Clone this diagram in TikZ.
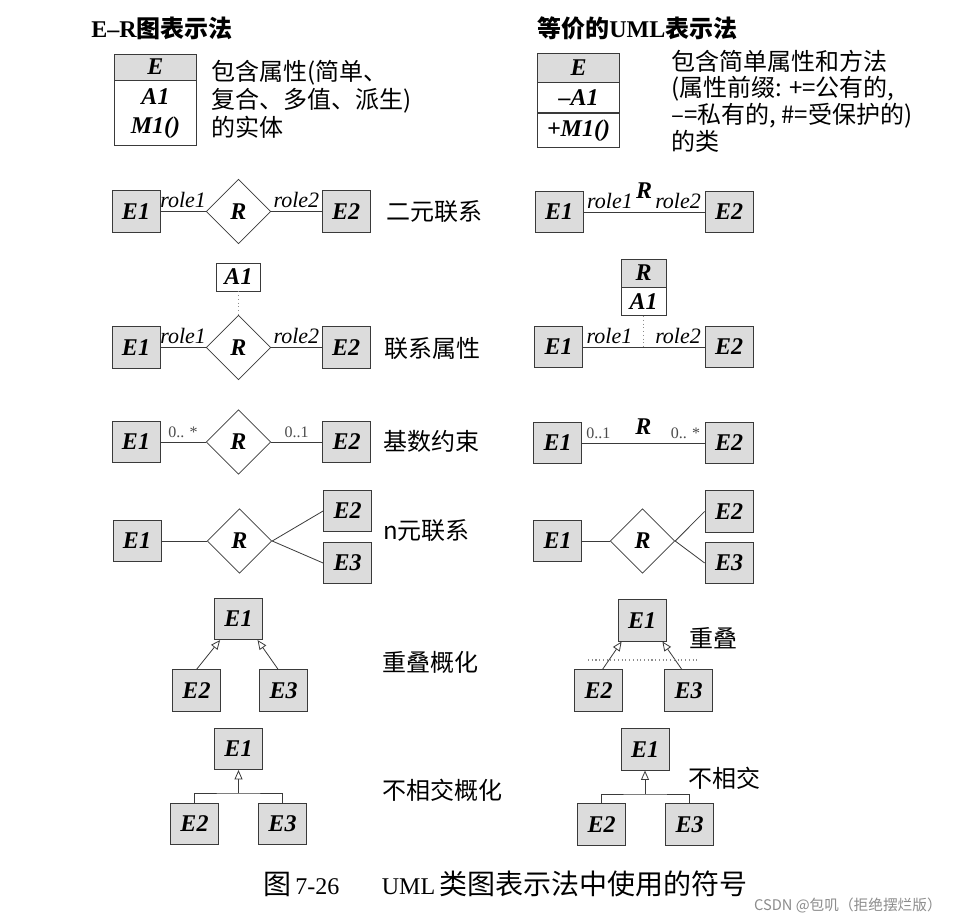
\documentclass[tikz,border=0pt]{standalone}
\usepackage{fontspec}
\setmainfont{Liberation Serif}
\newfontfamily\cjk{Noto Sans CJK SC}
\usetikzlibrary{arrows.meta, positioning, shapes.geometric}
\definecolor{BoxGray}{HTML}{DCDCDC}
\definecolor{EdgeGray}{HTML}{3A3A3A}
\definecolor{MarkGray}{HTML}{8C8C8C}
\newcommand{\entfont}{\fontsize{18}{18}\selectfont\bfseries\itshape}
\newcommand{\rolefont}{\fontsize{16.5}{16.5}\selectfont\itshape}
\newcommand{\lblfont}{\fontsize{18}{21}\selectfont\cjk}
\tikzset{
  entbox/.style={draw=EdgeGray, line width=0.6pt, fill=BoxGray, minimum width=36pt, minimum height=31pt, inner sep=0pt, font=\entfont},
  relbox/.style={diamond, draw=EdgeGray, line width=0.6pt, fill=white, minimum size=48.5pt, inner sep=0pt, font=\entfont},
  cellbox/.style={draw=EdgeGray, line width=0.6pt, fill=white, minimum width=62pt, inner sep=0pt, font=\entfont},
  conn/.style={draw=EdgeGray, line width=0.6pt},
  dotconn/.style={draw=MarkGray, dotted, line width=0.8pt},
  genarrow/.style={-{Triangle[open, length=7pt, width=6pt]}, draw=EdgeGray, line width=0.6pt},
  rolelbl/.style={font=\rolefont, inner sep=2.5pt},
  multlbl/.style={font=\fontsize{12}{12}\selectfont, text=black!70, inner sep=3pt},
  sidelbl/.style={anchor=west, font=\lblfont, inner sep=0pt},
  titlelbl/.style={anchor=west, inner sep=0pt, font=\fontsize{18}{18}\selectfont\bfseries}
}

\begin{document}
\begin{tikzpicture}[x=0.75pt, y=-0.75pt]
\fill[white] (0,0) rectangle (953,924);
\useasboundingbox (0,0) rectangle (953,924);

% column titles
\node[titlelbl] (erTitle) at (91,28) {E–R{\cjk 图表示法}};
\node[titlelbl] (umlTitle) at (537,28) {{\cjk 等价的}UML{\cjk 表示法}};

% entity and class
\node[cellbox, fill=BoxGray, minimum height=19.5pt] (erE) at (155.5,67) {E};
\node[cellbox, below=0pt of erE, minimum height=48.75pt, align=center, font=\fontsize{18}{22}\selectfont\bfseries\itshape] (erBody) {A1\\M1()};
\node[anchor=west, align=left, inner sep=0pt, font=\fontsize{18}{21}\selectfont\cjk] (erText) at (211,99) {包含属性(简单、\\复合、多值、派生)\\的实体};

\node[cellbox, fill=BoxGray, minimum height=21.75pt] (umlE) at (578.5,67.5) {E};
\node[cellbox, below=0pt of umlE, minimum height=22.5pt] (umlA) {–A1};
\node[cellbox, below=0pt of umlA, minimum height=25.5pt] (umlM) {+M1()};
\node[anchor=west, align=left, inner sep=0pt, font=\fontsize{18}{20}\selectfont\cjk] (umlText) at (671,101) {包含简单属性和方法\\(属性前缀: +=公有的,\\–=私有的, \#=受保护的)\\的类};

% binary relationship
\node[entbox] (b1) at (136,211.5) {E1};
\node[relbox] (bR) at (238.5,211.5) {R};
\node[entbox] (b2) at (346,211.5) {E2};
\draw[conn] (b1) -- node[rolelbl, above] {role1} (bR);
\draw[conn] (bR) -- node[rolelbl, above] {role2} (b2);
\node[sidelbl] (bLbl) at (386,212) {二元联系};

\node[entbox] (ub1) at (559,212) {E1};
\node[entbox] (ub2) at (729,212) {E2};
\draw[conn] (ub1) -- node[rolelbl, pos=0, anchor=south west] {role1}
  node[midway, above=10pt, inner sep=0pt, font=\entfont] {R}
  node[rolelbl, pos=1, anchor=south east] {role2} (ub2);

% relationship attribute
\node[cellbox, minimum width=33pt, minimum height=21pt] (aA1) at (238.5,277) {A1};
\node[entbox] (a1) at (136,347.5) {E1};
\node[relbox] (aR) at (238.5,347.5) {R};
\node[entbox] (a2) at (346,347.5) {E2};
\draw[dotconn] (aA1) -- (aR);
\draw[conn] (a1) -- node[rolelbl, above] {role1} (aR);
\draw[conn] (aR) -- node[rolelbl, above] {role2} (a2);
\node[sidelbl] (aLbl) at (384,348) {联系属性};

\node[cellbox, fill=BoxGray, minimum width=33.75pt, minimum height=21pt] (uaR) at (643.5,273) {R};
\node[cellbox, below=0pt of uaR, minimum width=33.75pt, minimum height=21pt] (uaA1) {A1};
\node[entbox] (ua1) at (558.5,347) {E1};
\node[entbox] (ua2) at (729,347) {E2};
\draw[conn] (ua1) -- node[rolelbl, pos=0, anchor=south west] {role1}
  node[rolelbl, pos=1, anchor=south east] {role2} (ua2);
\draw[dotconn] (uaA1) -- (uaA1 |- ua1);

% cardinality
\node[entbox] (c1) at (136,442) {E1};
\node[relbox] (cR) at (238.5,442) {R};
\node[entbox] (c2) at (346.5,442) {E2};
\draw[conn] (c1) -- node[multlbl, above] {0.. *} (cR);
\draw[conn] (cR) -- node[multlbl, above] {0..1} (c2);
\node[sidelbl] (cLbl) at (383,441) {基数约束};

\node[entbox] (uc1) at (557.5,443) {E1};
\node[entbox] (uc2) at (729,443) {E2};
\draw[conn] (uc1) -- node[multlbl, pos=0, anchor=south west] {0..1}
  node[midway, above=6pt, inner sep=0pt, font=\entfont] {R}
  node[multlbl, pos=1, anchor=south east] {0.. *} (uc2);

% n-ary relationship
\node[entbox] (n1) at (137,541) {E1};
\node[relbox] (nR) at (239.5,541) {R};
\node[entbox] (n2) at (347.5,511) {E2};
\node[entbox] (n3) at (347.5,563) {E3};
\draw[conn] (n1) -- (nR);
\draw[conn] (nR.east) -- (n2.west);
\draw[conn] (nR.east) -- (n3.west);
\node[sidelbl] (nLbl) at (383,531) {n元联系};

\node[entbox] (un1) at (557.5,541) {E1};
\node[relbox] (unR) at (642.5,541) {R};
\node[entbox] (un2) at (729,511.5) {E2};
\node[entbox] (un3) at (729,563) {E3};
\draw[conn] (un1) -- (unR);
\draw[conn] (unR.east) -- (un2.west);
\draw[conn] (unR.east) -- (un3.west);

% overlapping generalization
\node[entbox] (o1) at (238.5,619) {E1};
\node[entbox] (o2) at (196.5,690.5) {E2};
\node[entbox] (o3) at (283.5,690.5) {E3};
\draw[genarrow] (o2.north) -- ([xshift=4.5pt]o1.south west);
\draw[genarrow] ([xshift=-4pt]o3.north) -- ([xshift=-4pt]o1.south east);
\node[sidelbl] (oLbl) at (382,662) {重叠概化};

\node[entbox] (uo1) at (642,620.5) {E1};
\node[entbox] (uo2) at (598.5,690.5) {E2};
\node[entbox] (uo3) at (688.5,690.5) {E3};
\draw[genarrow] ([xshift=3pt]uo2.north) -- ([xshift=3pt]uo1.south west);
\draw[genarrow] ([xshift=-5pt]uo3.north) -- ([xshift=-3pt]uo1.south east);
\coordinate (ovlL) at (588,660);
\coordinate (ovlR) at (698,660);
\draw[dotconn] (ovlL) -- (ovlR);
\node[sidelbl] (uoLbl) at (689,638) {重叠};

% disjoint generalization
\node[entbox] (d1) at (238.5,749) {E1};
\node[entbox] (d2) at (194.5,824) {E2};
\node[entbox] (d3) at (282.5,824) {E3};
\coordinate (dJoin) at (238.5,793);
\draw[conn] (d2.north) |- (dJoin) -| (d3.north);
\draw[genarrow] (dJoin) -- (d1.south);
\node[sidelbl] (dLbl) at (382,790) {不相交概化};

\node[entbox] (ud1) at (645,749.5) {E1};
\node[entbox] (ud2) at (601.5,824.5) {E2};
\node[entbox] (ud3) at (689.5,824.5) {E3};
\coordinate (udJoin) at (645,794);
\draw[conn] (ud2.north) |- (udJoin) -| (ud3.north);
\draw[genarrow] (udJoin) -- (ud1.south);
\node[sidelbl] (udLbl) at (688,778) {不相交};

% caption
\node[anchor=west, inner sep=0pt, font=\fontsize{18}{18}\selectfont] (caption) at (263,884)
  {{\cjk\fontsize{21}{21}\selectfont 图}\hspace{3pt}7-26\hspace{32pt}UML\hspace{3pt}{\cjk\fontsize{21}{21}\selectfont 类图表示法中使用的符号}};
\node[anchor=east, inner sep=0pt, font=\fontsize{11}{11}\selectfont\cjk, text=black!45] (mark) at (942,905) {CSDN @包叽（拒绝摆烂版）};
\end{tikzpicture}
\end{document}
